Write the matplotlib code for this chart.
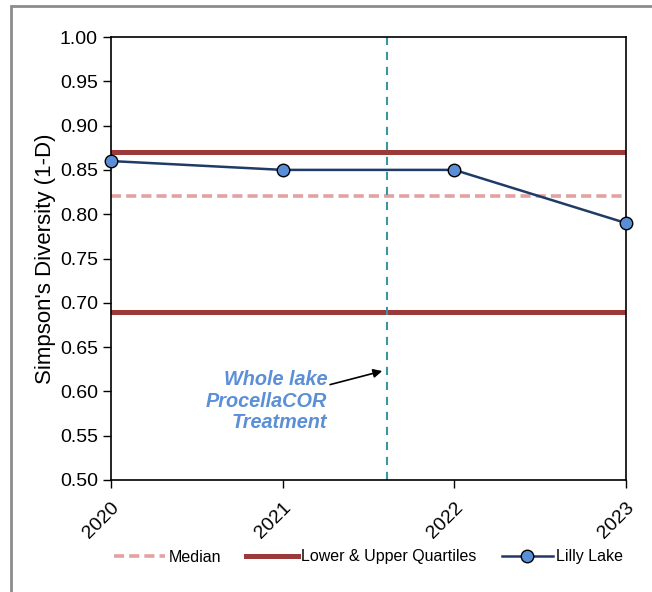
import matplotlib.pyplot as plt
from matplotlib.patches import Rectangle

plt.rcParams['font.family'] = ['Liberation Sans', 'DejaVu Sans']

years = [2020, 2021, 2022, 2023]
lilly_lake = [0.86, 0.85, 0.85, 0.79]
median = 0.82
lower_q = 0.69
upper_q = 0.87
treatment_x = 2021.61

fig = plt.figure(figsize=(6.52, 5.92), dpi=100)
ax = fig.add_axes([111 / 652, 1 - 480 / 592, 515 / 652, 443 / 592])

# outer grey frame of the chart
fig.patches.append(Rectangle((11 / 652, -0.05), 1.1, 1 - 6 / 592 + 0.05,
                             transform=fig.transFigure, fill=False,
                             edgecolor='#8c8c8c', linewidth=2))

ax.axhline(median, color='#e3a1a0', linestyle=(0, (2.8, 1.4)), linewidth=2.6, label='Median')
ax.axhline(upper_q, color='#9b3a38', linewidth=3.6, label='Lower & Upper Quartiles')
ax.axhline(lower_q, color='#9b3a38', linewidth=3.6)
ax.plot(years, lilly_lake, color='#1f3b66', linewidth=1.8, marker='o', markersize=9,
        markerfacecolor='#5a8fd5', markeredgecolor='black', markeredgewidth=1.0,
        label='Lilly Lake', clip_on=False, zorder=5)
ax.axvline(treatment_x, color='#3d95a3', linestyle=(0, (3.9, 3.3)), linewidth=1.5)

ax.annotate('Whole lake\nProcellaCOR\nTreatment', xy=(2021.58, 0.623), xytext=(2021.26, 0.589),
            ha='right', va='center', fontsize=14.3, fontweight='bold', fontstyle='italic',
            color='#5b8fd6', linespacing=1.17,
            arrowprops=dict(arrowstyle='-|>', color='black', lw=1.2, mutation_scale=13,
                            shrinkA=0, shrinkB=0))

ax.set_xlim(2020, 2023)
ax.set_ylim(0.5, 1.0)
ax.set_xticks(years)
ax.set_xticklabels([str(y) for y in years], rotation=45, ha='right', rotation_mode='anchor')
ax.set_yticks([0.5 + 0.05 * i for i in range(11)])
ax.set_yticklabels([f'{0.5 + 0.05 * i:.2f}' for i in range(11)])
ax.tick_params(axis='both', labelsize=14, length=6, width=1, color='black', direction='out')
ax.tick_params(axis='x', pad=8)
for s in ax.spines.values():
    s.set_linewidth(1.2)
ax.set_ylabel("Simpson's Diversity (1-D)", fontsize=16, labelpad=3)

ax.legend(loc='center', bbox_to_anchor=(0.5, 1 - (557 - 37) / 443), ncol=3, frameon=False,
          fontsize=11.5, handlelength=3.2, handletextpad=0.2, columnspacing=1.6)

plt.savefig('out.png')
